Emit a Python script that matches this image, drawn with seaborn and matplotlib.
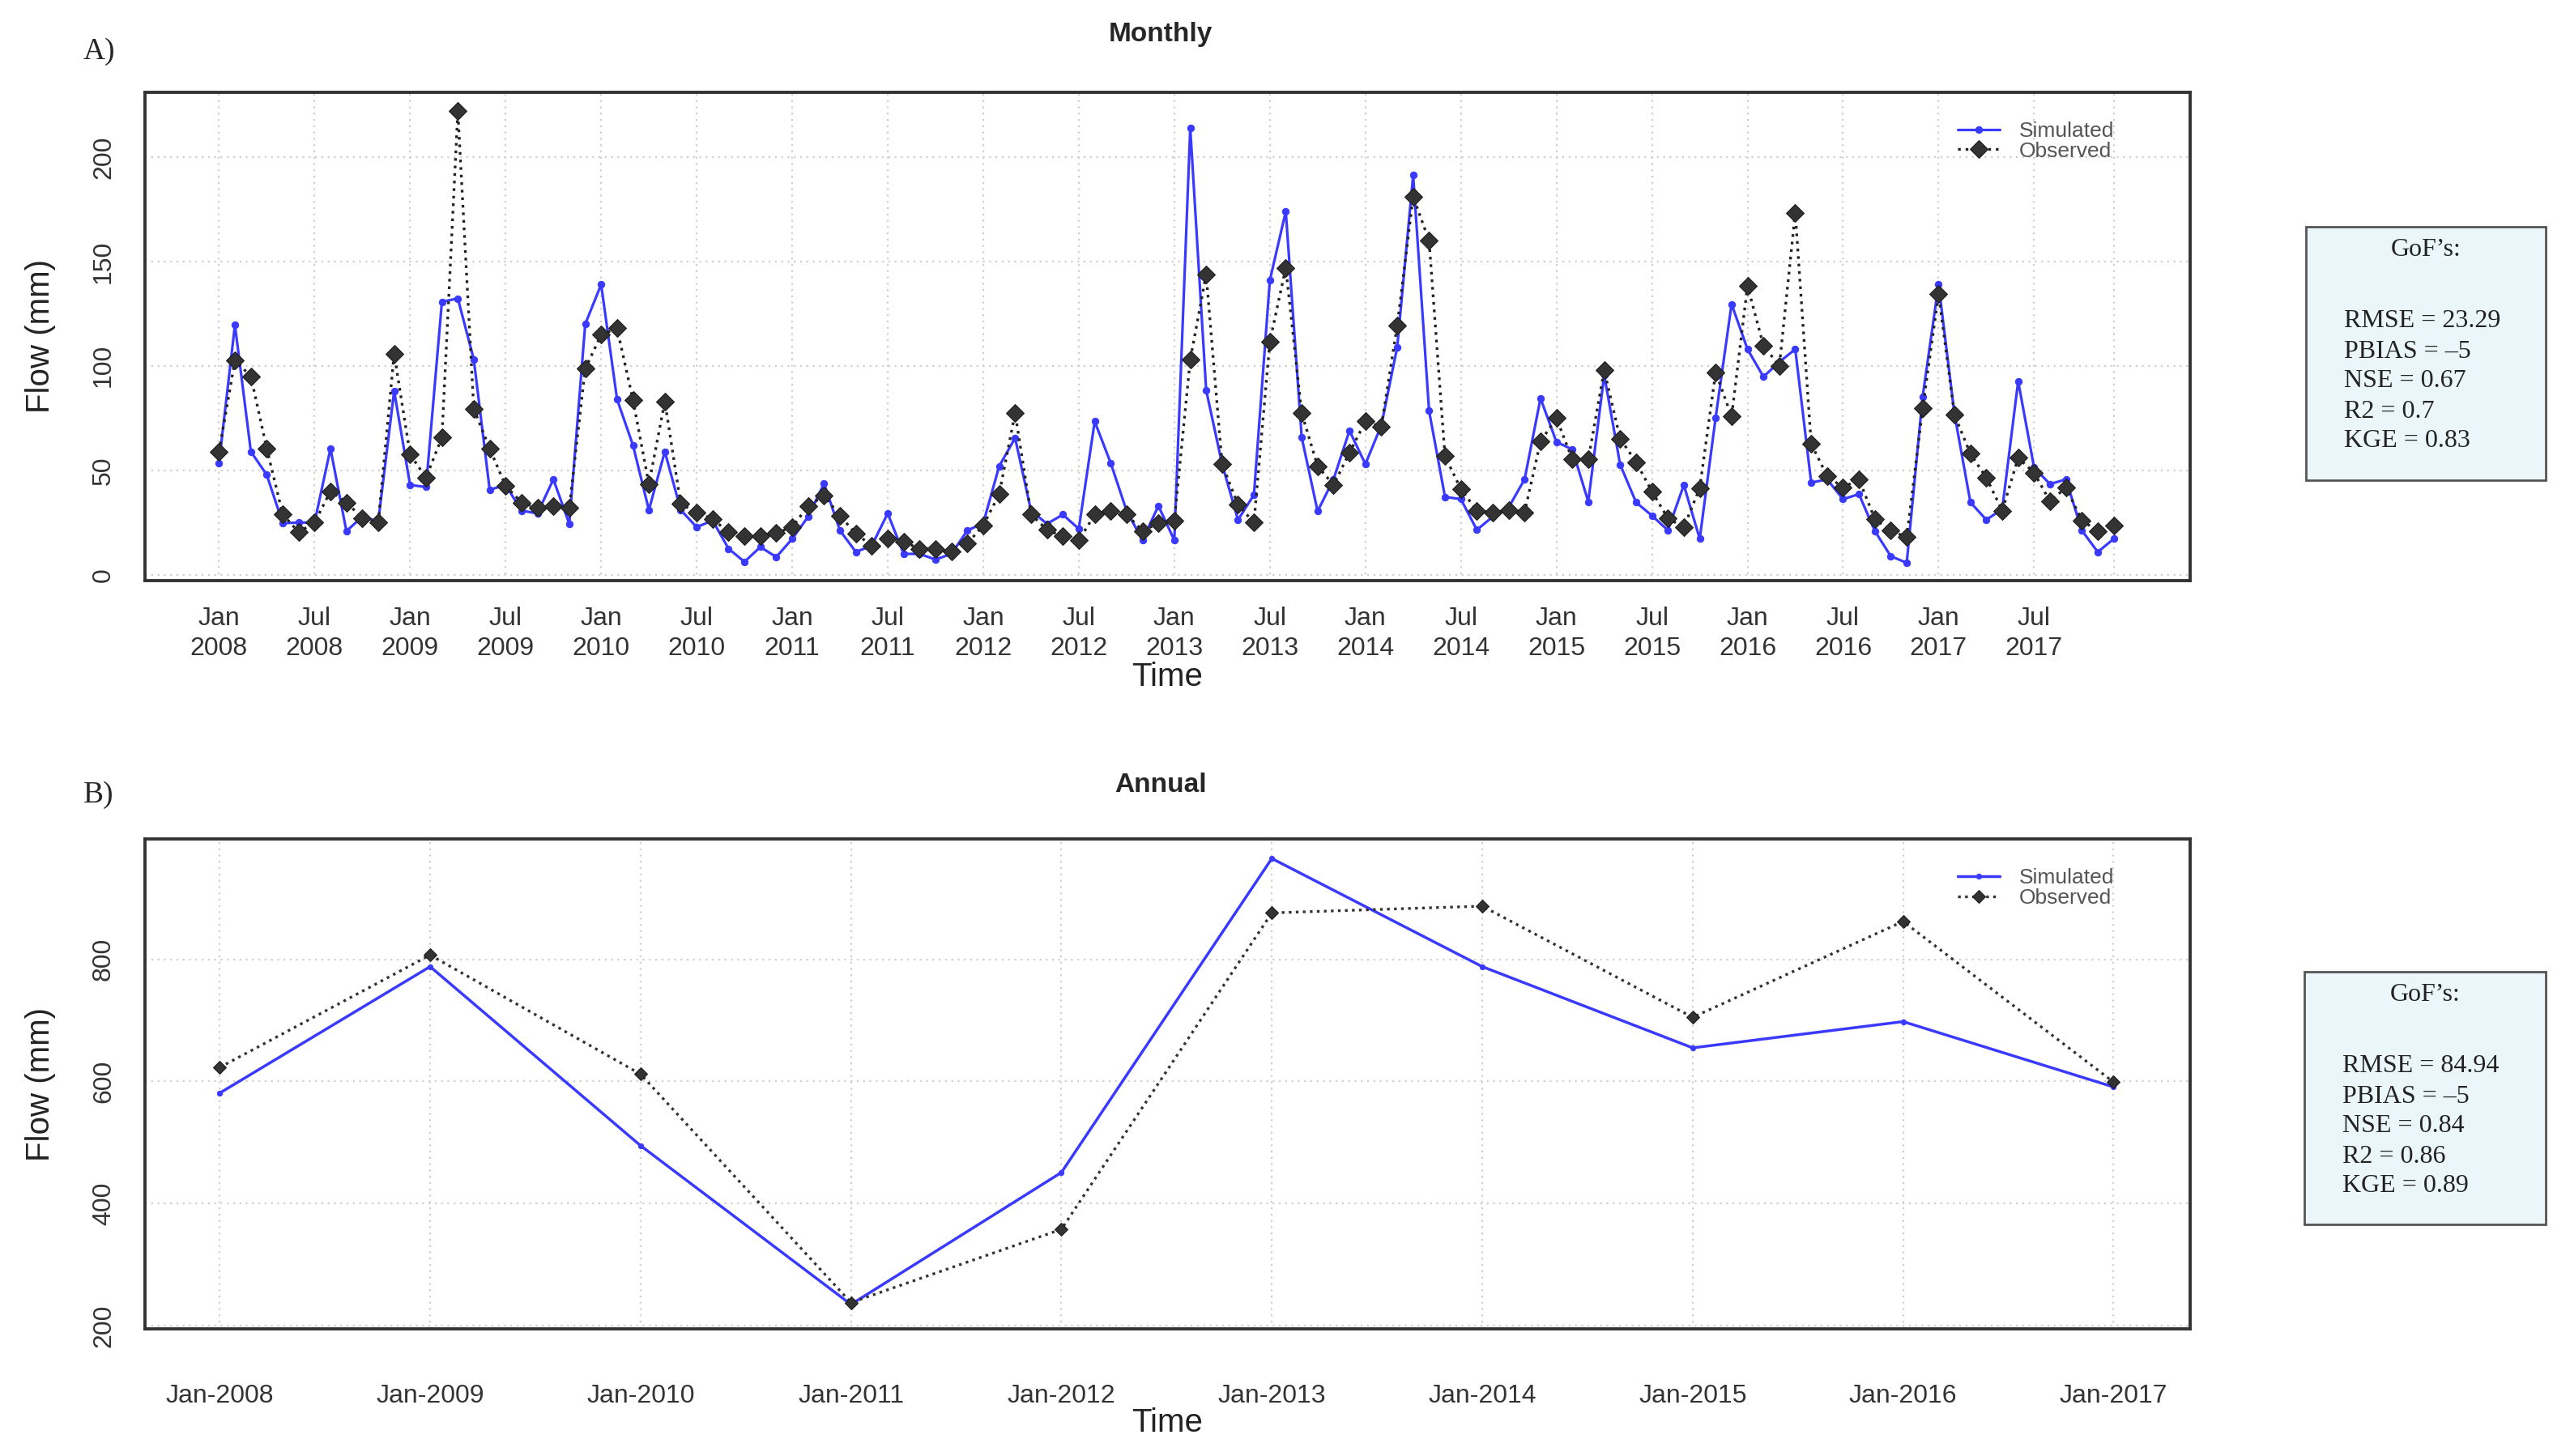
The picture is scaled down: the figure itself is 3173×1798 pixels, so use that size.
import numpy as np
import pandas as pd
import matplotlib
matplotlib.use("Agg")
import matplotlib.pyplot as plt
import seaborn as sns
from matplotlib.patches import Rectangle
from matplotlib.ticker import FixedLocator

sns.set_style("white")
plt.rcParams["font.family"] = ["Liberation Sans", "DejaVu Sans"]

# monthly flow (mm), Jan 2008 .. Dec 2017
sim_monthly = [53.6, 119.6, 59, 47.8, 24.7, 25, 25, 60.4, 20.9, 27.8, 25.5, 88,
               43, 42, 130.7, 132.3, 103.2, 40.7, 43, 30.7, 29.4, 45.7, 24.4, 120,
               139, 84, 62, 31, 59, 31, 22.8, 26, 12.5, 6.2, 13.3, 8.5,
               17.2, 27.8, 43.7, 21.2, 10.9, 14, 29.4, 10, 10, 7.3, 10, 21.2,
               24.7, 52, 65.5, 30.7, 24.4, 28.8, 22, 73.4, 53.6, 30.7, 16.5, 33,
               16.5, 214, 88.4, 53, 26.3, 38.3, 141, 174, 65.8, 30.4, 45.7, 69,
               53, 71.5, 109, 191.3, 78.5, 37.3, 36.2, 21.5, 27.8, 32.3, 45.7, 84.5,
               63.6, 60, 35, 95.6, 52.8, 34.7, 28.3, 21.3, 43, 17.2, 75.3, 129.6,
               108, 94.8, 101.9, 108, 44.1, 45.7, 36.2, 38.6, 20.9, 8.9, 5.7, 85.3,
               139, 76.9, 34.7, 26.3, 31.5, 92.7, 51.3, 43.4, 45.7, 21.2, 10.9, 17.2]
obs_monthly = [58.9, 102.7, 95, 60.4, 29, 20.4, 25, 40, 34.6, 27.2, 25, 105.8,
               57.6, 46.5, 65.8, 222, 79.4, 60.4, 42.6, 34.6, 32, 33, 32, 98.7,
               114.9, 118, 83.7, 43.4, 83, 33.9, 29.9, 26.7, 20.4, 18.4, 18.4, 20,
               22.8, 33, 37.8, 28.3, 19.6, 14, 17.2, 15.7, 12.5, 12.5, 11, 15,
               23.6, 38.6, 77.4, 29, 21.5, 18.4, 16.5, 28.8, 30.7, 29, 20.9, 24.7,
               26, 103, 143.8, 53, 33.5, 25, 111.7, 147, 77.4, 52, 43, 58.4,
               73.4, 71, 119.3, 181, 160, 56.8, 41, 30.7, 29.9, 31, 29.9, 63.9,
               75, 55.2, 55.2, 98, 65.2, 54, 39.9, 27, 22.8, 41.5, 97, 75.8,
               138.3, 109.8, 100, 173.4, 62.7, 47.3, 41.8, 45.7, 26.7, 21.2, 18, 79.7,
               134.4, 76.6, 57.9, 46.5, 30.7, 56, 48.9, 35.1, 41.8, 26, 20.9, 23.6]

years = list(range(2008, 2018))
sim_annual = [581, 788, 495, 235, 451, 965, 788, 655, 698, 591]
obs_annual = [623, 807, 612, 238, 358, 876, 887, 705, 862, 599]

monthly_ticklabels = [f"{m}\n{y}" for y in years for m in ("Jan", "Jul")] + [""]
annual_ticklabels = [f"Jan-{y}" for y in years]

gof_monthly = ["RMSE = 23.29", "PBIAS = \u20135", "NSE = 0.67", "R2 = 0.7", "KGE = 0.83"]
gof_annual = ["RMSE = 84.94", "PBIAS = \u20135", "NSE = 0.84", "R2 = 0.86", "KGE = 0.89"]

W, H = 3173, 1798
BLUE = "#3a3aff"

df_m = pd.DataFrame({"month": np.arange(len(sim_monthly)), "sim": sim_monthly, "obs": obs_monthly})
df_a = pd.DataFrame({"year": np.arange(len(years)), "sim": sim_annual, "obs": obs_annual})

fig = plt.figure(figsize=(W / 100, H / 100), dpi=100)
ax1 = fig.add_axes([179 / W, 1 - 717 / H, 2525 / W, 603 / H])
ax2 = fig.add_axes([179 / W, 1 - 1641 / H, 2525 / W, 605 / H])


def style_axes(ax):
    for s in ax.spines.values():
        s.set_color("#333333")
        s.set_linewidth(2.8)
    ax.grid(True, which="major", color="#cfcfcf", linestyle=(0, (1, 2.5)), linewidth=1.6)
    ax.set_axisbelow(True)
    ax.tick_params(axis="y", length=10, width=2.5, color="#444444", pad=16,
                   labelsize=23, labelcolor="#333333")
    for t in ax.get_yticklabels():
        t.set_rotation(90)
        t.set_va("center")
        t.set_ha("right")


# ---- monthly
sns.lineplot(data=df_m, x="month", y="sim", ax=ax1, color=BLUE, linewidth=2.3,
             marker="o", markersize=6, markeredgecolor=BLUE, label="Simulated")
sns.lineplot(data=df_m, x="month", y="obs", ax=ax1, color="#222222", linewidth=2.4,
             linestyle=(0, (1, 1.8)), marker="D", markersize=11, markerfacecolor="#333333",
             markeredgecolor="#1a1a1a", label="Observed")
ax1.set_xlim(-4.65, 123.8)
ax1.set_ylim(-2.8, 231)
major_m = list(range(0, 120, 6)) + [119]
ax1.xaxis.set_major_locator(FixedLocator(major_m))
ax1.xaxis.set_minor_locator(FixedLocator([m for m in range(120) if m not in major_m]))
ax1.set_xticklabels(monthly_ticklabels, linespacing=1.32)
ax1.set_yticks([0, 50, 100, 150, 200])
ax1.tick_params(axis="x", which="major", length=20, width=2.5, color="#444444", pad=3,
                labelsize=23, labelcolor="#333333")
ax1.tick_params(axis="x", which="minor", length=10, width=1.5, color="#aaaaaa")
style_axes(ax1)

# ---- annual
sns.lineplot(data=df_a, x="year", y="sim", ax=ax2, color=BLUE, linewidth=2.5,
             marker="o", markersize=4.5, markeredgecolor=BLUE, label="Simulated")
sns.lineplot(data=df_a, x="year", y="obs", ax=ax2, color="#333333", linewidth=2.4,
             linestyle=(0, (1, 1.6)), marker="D", markersize=8, markerfacecolor="#333333",
             markeredgecolor="#1a1a1a", label="Observed")
ax2.set_xlim(-0.355, 9.364)
ax2.set_ylim(195, 997)
ax2.set_xticks(range(len(years)))
ax2.set_xticklabels(annual_ticklabels)
ax2.set_yticks([200, 400, 600, 800])
ax2.tick_params(axis="x", which="major", length=17, width=2.5, color="#444444", pad=32,
                labelsize=23, labelcolor="#333333")
style_axes(ax2)

for ax, ly in ((ax1, -0.197), (ax2, -0.192)):
    ax.set_xlabel("Time", fontsize=29, color="#222222")
    ax.xaxis.set_label_coords(0.5, ly)
    ax.xaxis.label.set_va("center")
    ax.set_ylabel("Flow (mm)", fontsize=29, color="#222222")
    ax.yaxis.set_label_coords(-0.0511, 0.5)
    ax.yaxis.label.set_va("center")
    ax.legend(loc="upper right", bbox_to_anchor=(0.963, 0.94), frameon=False, fontsize=19,
              labelcolor="#555555", handlelength=2.0, handletextpad=0.9,
              labelspacing=0.02, borderpad=0, borderaxespad=0)

# titles and panel letters
fig.text(1433 / W, 1 - 43 / H, "Monthly", ha="center", va="center", fontsize=24, weight="bold")
fig.text(1433 / W, 1 - 969 / H, "Annual", ha="center", va="center", fontsize=24, weight="bold")
fig.text(103 / W, 1 - 64 / H, "A)", ha="left", va="center", fontsize=27, family="Liberation Serif")
fig.text(103 / W, 1 - 982 / H, "B)", ha="left", va="center", fontsize=27, family="Liberation Serif")

# GoF boxes
for (x0, x1, y0, y1), lines in (((2847, 3143, 280, 593), gof_monthly),
                                ((2845, 3143, 1200, 1512), gof_annual)):
    fig.patches.append(Rectangle((x0 / W, 1 - y1 / H), (x1 - x0) / W, (y1 - y0) / H,
                                 transform=fig.transFigure, facecolor="#eaf6fa",
                                 edgecolor="#555555", linewidth=2))
    fig.text((x0 + x1) / 2 / W, 1 - (y0 + 28) / H, "GoF\u2019s:", ha="center", va="center",
             fontsize=23, family="Liberation Serif", color="#222222")
    for k, s in enumerate(lines):
        fig.text((x0 + 47) / W, 1 - (y0 + 117 + 37 * k) / H, s, ha="left", va="center",
                 fontsize=23, family="Liberation Serif", color="#222222")

fig.savefig("out.png", dpi=100)
